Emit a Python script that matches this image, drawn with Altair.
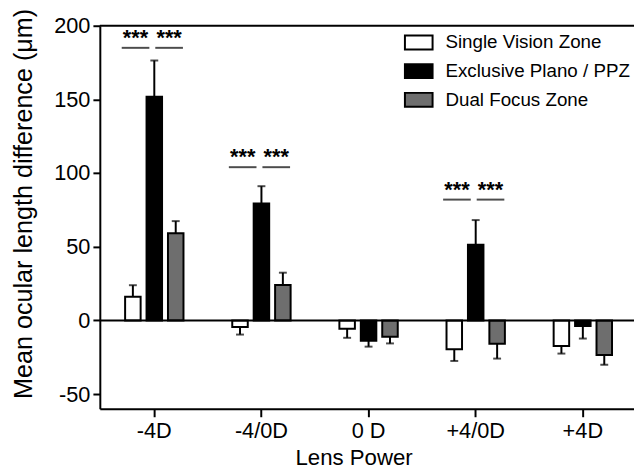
import altair as alt
import pandas as pd

categories = ["-4D", "-4/0D", "0 D", "+4/0D", "+4D"]
series = ["Single Vision Zone", "Exclusive Plano / PPZ", "Dual Focus Zone"]
colors = ["#ffffff", "#000000", "#6e6e6e"]

single_vision = [16.1, -4.4, -5.6, -19.6, -17.4]
single_vision_sem = [7.8, 5.2, 6.2, 7.9, 5.1]
exclusive_ppz = [151.8, 79.3, -13.8, 51.4, -3.8]
exclusive_ppz_sem = [24.6, 11.8, 4.0, 16.7, 8.5]
dual_focus = [59.2, 24.1, -11.1, -15.8, -23.4]
dual_focus_sem = [8.2, 8.3, 4.5, 10.1, 6.7]

sig_categories = ["-4D", "-4/0D", "+4/0D"]
sig_heights = [185, 104, 82]
sig_label = "***"

y_ticks = [-50, 0, 50, 100, 150, 200]

rows = []
for s, vals, sems in zip(series,
                         [single_vision, exclusive_ppz, dual_focus],
                         [single_vision_sem, exclusive_ppz_sem, dual_focus_sem]):
    for c, v, e in zip(categories, vals, sems):
        rows.append({"lens": c, "group": s, "value": v,
                     "err_end": v + e if v >= 0 else v - e})
df = pd.DataFrame(rows)
sig_df = pd.DataFrame({"lens": sig_categories, "h": sig_heights, "label": [sig_label] * 3})

x_enc = alt.X("lens:N", sort=categories,
              scale=alt.Scale(paddingInner=0.4, paddingOuter=0.193, align=0.54),
              axis=alt.Axis(title="Lens Power", labelAngle=0, labelFontSize=22,
                            labelPadding=4, tickSize=8, tickWidth=2, domainWidth=2,
                            titleFontSize=22.5, titleFontWeight="normal",
                            titleX=257, titleY=56, titleBaseline="alphabetic",
                            titleAnchor="middle"))
xo_enc = alt.XOffset("group:N", sort=series,
                     scale=alt.Scale(paddingInner=0.276, paddingOuter=0.138))
y_scale = alt.Scale(domain=[-60, 200], nice=False, zero=False)
y_enc = alt.Y("value:Q", scale=y_scale,
              axis=alt.Axis(title="Mean ocular length difference (\u03bcm)",
                            values=y_ticks, labelExpr="'' + datum.value",
                            labelFontSize=22, labelPadding=3,
                            tickSize=7, tickWidth=2, domainWidth=2, grid=False,
                            titleFontSize=25.5, titleFontWeight="normal",
                            titleX=-69, titleY=180, titleBaseline="alphabetic",
                            titleAngle=-90))

base = alt.Chart(df)

bars = base.mark_bar(stroke="black", strokeWidth=2).encode(
    x=x_enc, xOffset=xo_enc, y=y_enc,
    fill=alt.Fill("group:N", sort=series,
                  scale=alt.Scale(domain=series, range=colors),
                  legend=alt.Legend(title=None, orient="none", legendX=308, legendY=2,
                                    symbolType="M-1,-0.5L1,-0.5L1,0.5L-1,0.5Z",
                                    symbolSize=784, symbolStrokeColor="black",
                                    symbolStrokeWidth=2, labelFontSize=19,
                                    labelOffset=12, rowPadding=3, padding=0,
                                    labelLimit=0, labelColor="black")),
)

err_rule = base.mark_rule(color="black", strokeWidth=2).encode(
    x=x_enc, xOffset=xo_enc, y="value:Q", y2="err_end:Q")
err_cap = base.mark_tick(color="black", thickness=2, size=8).encode(
    x=x_enc, xOffset=xo_enc, y="err_end:Q")

zero_line = alt.Chart(pd.DataFrame({"v": [0]})).mark_rule(color="black", strokeWidth=2).encode(
    y=alt.Y("v:Q", scale=y_scale))
top_line = alt.Chart(pd.DataFrame({"v": [200]})).mark_rule(color="black", strokeWidth=2).encode(
    y=alt.Y("v:Q", scale=y_scale))

sig = alt.Chart(sig_df)
sig_l1 = sig.mark_tick(color="black", thickness=2, size=28, xOffset=-19).encode(
    x=alt.X("lens:N", sort=categories), y=alt.Y("h:Q", scale=y_scale))
sig_l2 = sig.mark_tick(color="black", thickness=2, size=28, xOffset=15).encode(
    x=alt.X("lens:N", sort=categories), y=alt.Y("h:Q", scale=y_scale))
sig_t1 = sig.mark_text(fontSize=22, fontWeight="bold", dy=-3, baseline="alphabetic",
                       xOffset=-19, color="black").encode(
    x=alt.X("lens:N", sort=categories), y=alt.Y("h:Q", scale=y_scale), text="label:N")
sig_t2 = sig.mark_text(fontSize=22, fontWeight="bold", dy=-3, baseline="alphabetic",
                       xOffset=15, color="black").encode(
    x=alt.X("lens:N", sort=categories), y=alt.Y("h:Q", scale=y_scale), text="label:N")

chart = alt.layer(bars, err_rule, err_cap, zero_line, top_line,
                  sig_l1, sig_l2, sig_t1, sig_t2).properties(
    width=541, height=388,
    autosize=alt.AutoSizeParams(type="none"),
    padding={"left": 93, "top": 15, "right": 0, "bottom": 60},
).configure(font="Liberation Sans").configure_view(stroke=None).configure_axis(
    domainColor="black", tickColor="black", labelColor="black", titleColor="black")

chart.save("out.html", embed_options={"renderer": "svg", "actions": False})
